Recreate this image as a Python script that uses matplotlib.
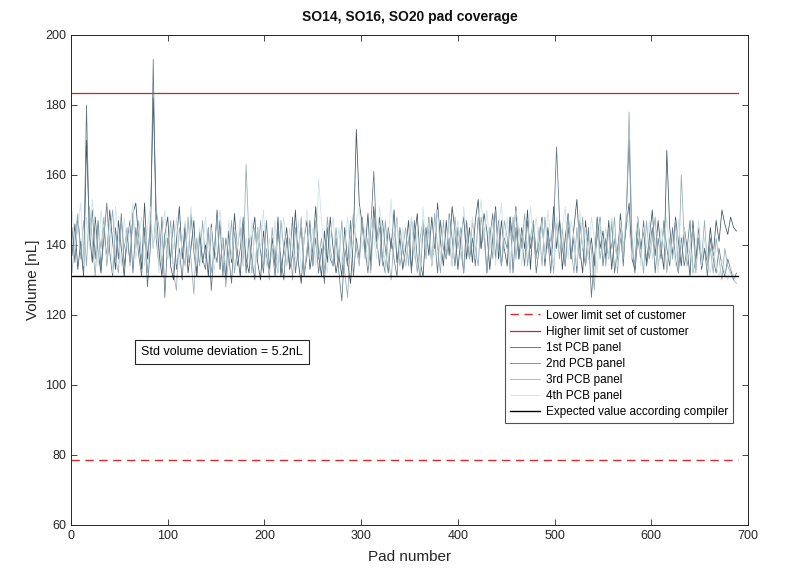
import numpy as np
import matplotlib.pyplot as plt

plt.rcParams['font.family'] = ['Liberation Sans', 'DejaVu Sans']

# pad numbers (every 3rd pad)
pads = np.arange(1, 690, 3)

panel_1 = [
    137, 146, 133, 141, 131, 170, 144, 135, 148, 138, 132, 145, 136, 150, 141, 133, 147, 139, 131, 143, 135, 149, 152,
    141, 133, 152, 136, 145, 182, 150, 138, 131, 143, 148, 134, 130, 141, 151, 136, 146, 132, 139, 147, 131, 144, 135,
    140, 131, 146, 136, 150, 133, 142, 130, 144, 135, 149, 138, 131, 146, 136, 132, 142, 148, 135, 130, 144, 137, 133,
    142, 134, 148, 131, 139, 145, 133, 137, 150, 135, 129, 142, 147, 133, 139, 151, 137, 131, 144, 135, 148, 139, 132,
    137, 131, 145, 135, 129, 142, 173, 152, 146, 138, 149, 134, 151, 141, 148, 136, 132, 145, 139, 150, 135, 142, 133,
    139, 147, 133, 142, 149, 135, 131, 145, 137, 148, 139, 152, 141, 134, 147, 137, 151, 144, 133, 142, 148, 136, 145,
    135, 147, 153, 139, 149, 144, 133, 142, 151, 136, 147, 139, 134, 148, 141, 151, 136, 145, 139, 150, 133, 147, 137,
    141, 148, 134, 145, 137, 151, 139, 147, 133, 142, 149, 136, 145, 153, 139, 132, 147, 136, 142, 134, 148, 139, 144,
    136, 147, 133, 142, 135, 149, 139, 145, 152, 136, 133, 148, 139, 144, 135, 142, 150, 137, 147, 139, 133, 167, 145,
    137, 148, 141, 134, 145, 139, 131, 147, 136, 142, 133, 139, 135, 145, 137, 147, 141, 150, 146, 143, 148, 145, 144,
]

panel_2 = [
    145, 135, 148, 139, 132, 180, 141, 150, 136, 147, 133, 142, 152, 138, 131, 145, 136, 149, 134, 141, 147, 132, 145,
    137, 131, 145, 128, 139, 193, 142, 134, 148, 125, 142, 136, 147, 133, 139, 130, 145, 135, 149, 138, 131, 143, 136,
    133, 145, 127, 139, 135, 147, 131, 142, 137, 129, 145, 134, 139, 148, 132, 142, 136, 130, 145, 138, 132, 147, 134,
    139, 131, 145, 136, 130, 142, 134, 148, 132, 139, 145, 131, 137, 147, 134, 142, 132, 139, 129, 145, 136, 134, 142,
    132, 124, 139, 134, 147, 131, 142, 136, 148, 139, 132, 145, 161, 142, 134, 147, 139, 132, 142, 136, 131, 145, 139,
    134, 142, 132, 147, 136, 131, 145, 139, 148, 134, 142, 132, 147, 139, 136, 149, 142, 134, 145, 139, 132, 147, 136,
    142, 134, 148, 139, 145, 132, 142, 149, 136, 147, 134, 142, 139, 148, 132, 145, 136, 142, 134, 147, 139, 145, 132,
    139, 147, 136, 142, 132, 145, 168, 148, 139, 134, 145, 136, 142, 132, 147, 139, 134, 145, 125, 136, 142, 148, 134,
    142, 136, 147, 132, 139, 145, 134, 148, 170, 139, 132, 142, 136, 147, 134, 139, 145, 132, 142, 136, 147, 139, 134,
    145, 136, 132, 142, 134, 139, 147, 132, 136, 145, 134, 139, 131, 142, 136, 132, 139, 134, 131, 136, 133, 130, 132,
]

panel_3 = [
    132, 142, 149, 136, 147, 134, 151, 141, 131, 145, 139, 148, 134, 142, 150, 136, 132, 147, 139, 145, 134, 149, 139,
    147, 136, 142, 132, 148, 139, 150, 145, 134, 142, 136, 147, 132, 127, 145, 139, 134, 148, 136, 126, 142, 134, 147,
    136, 145, 132, 139, 148, 134, 142, 128, 136, 147, 132, 139, 145, 134, 163, 142, 132, 145, 136, 147, 134, 139, 130,
    145, 136, 132, 147, 139, 134, 142, 130, 145, 136, 148, 132, 139, 145, 134, 147, 136, 142, 132, 148, 139, 134, 145,
    136, 147, 132, 125, 142, 149, 139, 134, 147, 136, 142, 132, 148, 139, 145, 134, 147, 136, 130, 142, 148, 134, 139,
    145, 134, 148, 139, 132, 142, 147, 136, 145, 134, 149, 139, 132, 147, 136, 142, 134, 148, 139, 145, 132, 142, 136,
    147, 139, 134, 148, 142, 132, 145, 136, 150, 139, 134, 147, 142, 132, 148, 136, 145, 139, 149, 134, 142, 147, 136,
    145, 134, 148, 139, 142, 132, 147, 136, 145, 134, 149, 139, 132, 145, 136, 148, 134, 142, 139, 127, 147, 136, 142,
    134, 145, 139, 148, 132, 142, 136, 147, 178, 142, 134, 145, 139, 132, 147, 136, 142, 148, 134, 139, 145, 132, 142,
    136, 147, 132, 160, 142, 134, 139, 145, 132, 142, 136, 147, 134, 139, 132, 142, 136, 130, 139, 134, 132, 130, 129,
]

panel_4 = [
    150, 139, 145, 152, 134, 148, 139, 153, 145, 134, 150, 142, 136, 147, 132, 151, 142, 134, 148, 139, 145, 152, 136,
    142, 148, 134, 145, 151, 139, 147, 132, 142, 150, 136, 145, 139, 148, 134, 142, 147, 136, 151, 142, 134, 145, 139,
    148, 136, 145, 132, 142, 150, 139, 134, 147, 136, 145, 139, 148, 134, 142, 136, 147, 132, 145, 139, 150, 134, 142,
    136, 147, 132, 142, 148, 134, 145, 139, 136, 147, 132, 142, 150, 136, 145, 134, 159, 147, 139, 132, 142, 148, 136,
    145, 134, 139, 148, 136, 142, 147, 151, 139, 145, 134, 148, 142, 136, 151, 145, 132, 142, 153, 139, 147, 136, 145,
    134, 142, 148, 136, 145, 132, 151, 139, 147, 134, 142, 150, 136, 145, 139, 148, 134, 142, 147, 136, 151, 142, 139,
    148, 136, 145, 153, 142, 150, 139, 147, 134, 145, 152, 139, 148, 136, 142, 150, 145, 134, 147, 139, 151, 142, 148,
    139, 147, 136, 150, 142, 134, 148, 139, 145, 151, 136, 147, 142, 134, 150, 139, 145, 136, 148, 142, 132, 147, 139,
    145, 136, 148, 142, 134, 147, 139, 150, 145, 136, 142, 148, 134, 145, 139, 147, 136, 142, 132, 145, 139, 148, 136,
    142, 134, 147, 139, 145, 136, 142, 132, 139, 147, 134, 142, 136, 132, 139, 134, 131, 136, 132, 130, 134, 131, 130,
]

lower_limit = 78.7
higher_limit = 183.4
expected = 131.0
last_pad = 690

fig = plt.figure(figsize=(7.9, 5.85), dpi=100)
ax = fig.add_axes([0.0899, 0.1026, 0.857, 0.8376])

ax.plot([0, last_pad], [lower_limit, lower_limit], '--', color='#d62a2a', lw=1.0,
        dashes=(6, 4), label='Lower limit set of customer')
ax.plot([0, last_pad], [higher_limit, higher_limit], '-', color='#c0282c', lw=0.9,
        label='Higher limit set of customer')

panel_colors = ['#3c5464', '#5f7787', '#93a9b3', '#cce3e5']
panel_names = ['1st PCB panel', '2nd PCB panel', '3rd PCB panel', '4th PCB panel']
for vals, col, name in zip([panel_1, panel_2, panel_3, panel_4], panel_colors, panel_names):
    ax.plot(pads, vals, color=col, lw=0.55, label=name)

ax.plot([0, last_pad], [expected, expected], color='black', lw=1.0,
        label='Expected value according compiler')

ax.set_xlim(0, 700)
ax.set_ylim(60, 200)
ax.set_xticks(np.arange(0, 701, 100))
ax.set_yticks(np.arange(60, 201, 20))
ax.tick_params(direction='in', length=4, width=0.6, top=True, right=True,
               labelsize=9, colors='#262626')
for sp in ax.spines.values():
    sp.set_color('#262626')
    sp.set_linewidth(0.7)

ax.set_xlabel('Pad number', fontsize=11, color='#262626', labelpad=6)
ax.set_ylabel('Volume [nL]', fontsize=11, color='#262626')
ax.set_title('SO14, SO16, SO20 pad coverage', fontsize=10, fontweight='bold', color='#111111', pad=10)

ax.text(156, 109.4, 'Std volume deviation = 5.2nL', ha='center', va='center', fontsize=9,
        bbox=dict(boxstyle='square,pad=0.5', facecolor='white', edgecolor='#262626', lw=0.8))

leg = ax.legend(loc='lower right', bbox_to_anchor=(0.978, 0.208), borderaxespad=0,
                fontsize=8.5, frameon=True, fancybox=False, handlelength=2.6,
                labelspacing=0.35, borderpad=0.4, handletextpad=0.5)
leg.get_frame().set_edgecolor('#262626')
leg.get_frame().set_linewidth(0.8)

fig.savefig('out.png', dpi=100)
